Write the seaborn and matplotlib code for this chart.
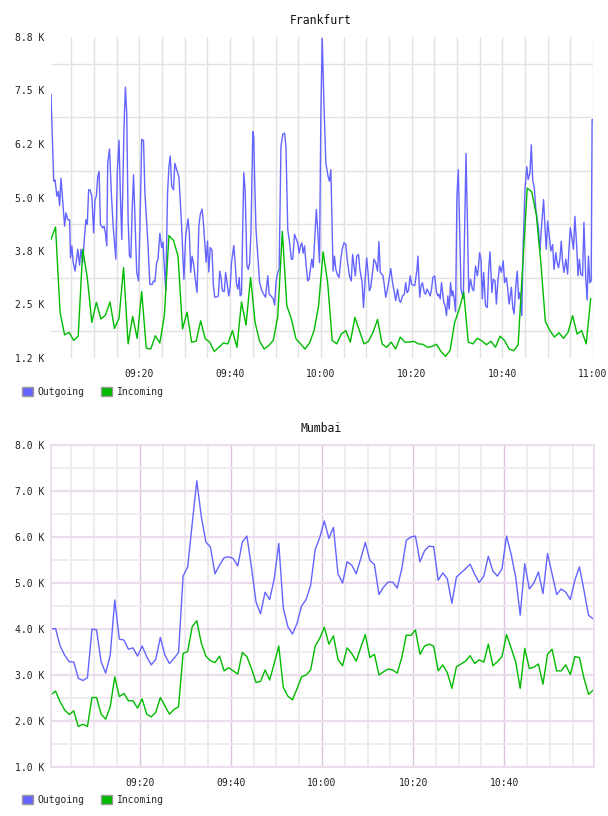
import matplotlib
matplotlib.use("Agg")
import matplotlib.pyplot as plt
import matplotlib.dates as mdates
from matplotlib.patches import Patch
from matplotlib.ticker import MultipleLocator, FuncFormatter
import pandas as pd
import seaborn as sns

sns.set_style("white")
plt.rcParams["font.family"] = ["DejaVu Sans Mono", "DejaVu Sans"]

START = pd.Timestamp("2024-01-01 09:00:30")
SERIES = ["Outgoing", "Incoming"]
PALETTE = {"Outgoing": "#6464ff", "Incoming": "#00bb00"}

# Frankfurt outgoing: minutes after START, value in K
fra_out_min = [
    0.0, 0.6, 0.9, 1.3, 1.6, 1.9, 2.2, 2.5, 3.0, 3.3,
    3.7, 4.1, 4.3, 4.6, 4.9, 5.3, 5.9, 6.3, 6.6, 7.0,
    7.4, 7.7, 8.0, 8.3, 8.6, 9.0, 9.4, 9.7, 10.0, 10.3,
    10.6, 10.9, 11.4, 11.7, 12.0, 12.3, 12.5, 12.9, 13.3, 13.7,
    14.3, 14.6, 15.0, 15.3, 15.6, 16.1, 16.4, 16.7, 17.0, 17.3,
    17.6, 17.9, 18.2, 18.6, 18.9, 19.3, 19.6, 20.0, 20.4, 20.7,
    21.0, 21.4, 21.8, 22.3, 22.6, 22.9, 23.3, 23.6, 24.0, 24.4,
    24.7, 25.1, 25.3, 25.7, 26.0, 26.3, 26.6, 27.0, 27.3, 27.7,
    28.2, 28.8, 29.3, 29.7,
    30.2, 30.5, 30.8, 31.1, 31.4, 31.9, 32.2, 32.6, 32.9, 33.3,
    33.6, 33.9, 34.2, 34.5, 34.8, 35.1, 35.5, 35.8, 36.1, 36.6,
    36.9, 37.2, 37.5, 37.8, 38.2, 38.5, 38.8, 39.2, 39.5, 39.8,
    40.3, 40.6, 40.9, 41.2, 41.5, 41.7, 42.0, 42.5, 42.8, 43.2,
    43.5, 43.8, 44.1, 44.5, 44.7, 44.9, 45.2, 45.6, 46.0, 46.5,
    46.9, 47.3, 47.8, 48.1, 48.5, 49.0, 49.3, 49.6, 50.0, 50.3,
    50.7, 51.1, 51.5, 51.8, 52.2, 52.6, 53.0, 53.3, 53.7, 54.1,
    54.4, 54.7, 55.0, 55.3, 55.6, 55.9, 56.2, 56.6, 56.9, 57.2,
    57.5, 57.8, 58.1, 58.5, 58.8, 59.2, 59.5,
    59.8, 60.2, 60.6, 61.1, 61.4, 61.7, 62.0, 62.2, 62.5, 62.8,
    63.1, 63.5, 63.9, 64.2, 64.6, 65.0, 65.3, 65.8, 66.2, 66.5,
    66.8, 67.1, 67.4, 67.8, 68.1, 68.6, 68.9, 69.3, 69.6, 69.9,
    70.2, 70.5, 70.9, 71.2, 71.6, 72.0, 72.3, 72.6, 72.9, 73.2,
    73.5, 73.8, 74.2, 74.6, 74.9, 75.3, 75.7, 76.0, 76.4, 76.8,
    77.1, 77.5, 77.9, 78.2, 78.5, 78.8, 79.2, 79.5, 79.9, 80.2,
    80.7, 80.9, 81.3, 81.6, 81.9, 82.3, 82.6, 82.9, 83.3, 83.6,
    83.9, 84.2, 84.6, 85.0, 85.3, 85.5, 85.8, 86.1, 86.6, 86.9,
    87.2, 87.5, 87.8, 88.1, 88.4, 88.6, 88.9, 89.2, 89.5, 89.8,
    90.1, 90.4, 90.9, 91.2, 91.5, 91.8, 92.1, 92.5, 92.9, 93.2,
    93.6, 94.0, 94.2, 94.5, 94.8, 95.1, 95.4, 95.8, 96.2, 96.5,
    96.8, 97.2, 97.5, 97.9, 98.2, 98.5, 98.9, 99.3, 99.7, 100.0,
    100.4, 100.7, 101.0, 101.5, 101.8, 102.1, 102.5, 102.8, 103.1, 103.4,
    103.8, 104.1, 104.5, 104.9, 105.2, 105.6, 105.9, 106.2, 106.6, 106.9,
    107.2, 107.5, 107.8, 108.1, 108.6, 108.9, 109.2, 109.5, 109.8, 110.2,
    110.6, 110.9, 111.3, 111.6, 111.9, 112.2, 112.5, 112.8, 113.1, 113.5,
    113.9, 114.2, 114.5, 114.9, 115.2, 115.5, 115.9, 116.2, 116.5, 116.8,
    117.2, 117.5, 117.9, 118.2, 118.5, 118.8, 119.1, 119.3, 119.5,
]
fra_out_k = [
    7.41, 5.38, 5.41, 5.03, 5.14, 4.81, 5.45, 5.03, 4.33, 4.64,
    4.48, 4.48, 3.59, 3.87, 3.48, 3.28, 3.79, 3.42, 3.79, 3.48,
    4.10, 4.48, 4.37, 5.18, 5.18, 5.03, 4.17, 4.95, 5.03, 5.49,
    5.61, 4.37, 4.29, 4.33, 4.17, 3.87, 5.80, 6.13, 5.11, 4.33,
    3.56, 5.57, 6.34, 5.03, 4.02, 6.65, 7.58, 6.96, 4.48, 3.63,
    3.59, 4.72, 5.53, 4.25, 3.25, 3.05, 4.25, 6.36, 6.33, 5.11,
    4.56, 3.87, 2.97, 2.97, 3.05, 3.03, 3.48, 3.56, 4.16, 3.83,
    3.96, 3.17, 2.84, 5.11, 5.72, 5.97, 5.26, 5.18, 5.80, 5.65,
    5.49, 4.33, 3.09, 4.10,
    4.50, 4.17, 3.25, 3.63, 3.48, 3.01, 2.78, 4.33, 4.60, 4.73,
    4.41, 3.94, 3.49, 3.98, 3.26, 3.83, 3.77, 2.94, 2.67, 2.68,
    2.70, 3.28, 3.13, 2.82, 2.80, 3.25, 3.01, 2.70, 2.90, 3.48,
    3.88, 3.48, 2.97, 2.86, 3.13, 2.70, 2.74, 5.58, 5.18, 3.40,
    3.32, 3.48, 4.25, 6.54, 6.42, 5.42, 4.25, 3.63, 3.01, 2.82,
    2.74, 2.67, 3.17, 2.74, 2.70, 2.63, 2.49, 3.01, 3.25, 3.32,
    6.19, 6.48, 6.50, 6.19, 4.25, 3.94, 3.56, 3.56, 4.14, 4.02,
    3.94, 3.70, 3.87, 3.94, 3.70, 3.87, 3.48, 3.05, 3.09, 3.32,
    3.56, 3.36, 3.94, 4.72, 4.25, 3.48, 6.96,
    8.72, 7.12, 5.80, 5.49, 5.38, 5.65, 4.25, 3.28, 3.63, 3.32,
    3.21, 3.13, 3.56, 3.79, 3.94, 3.91, 3.56, 3.17, 3.05, 3.67,
    3.40, 3.17, 3.63, 3.67, 3.32, 3.01, 2.43, 3.17, 3.59, 3.25,
    2.82, 2.90, 3.25, 3.56, 3.48, 3.28, 3.97, 3.25, 3.21, 3.17,
    2.94, 2.67, 2.86, 3.13, 3.34, 3.01, 2.78, 2.59, 2.86, 2.59,
    2.55, 2.70, 2.74, 3.01, 2.78, 2.82, 3.17, 2.97, 2.95, 2.94,
    3.32, 3.63, 2.67, 2.94, 3.01, 2.78, 2.74, 2.86, 2.78, 2.70,
    2.86, 3.13, 3.17, 2.78, 2.70, 2.74, 2.63, 3.01, 2.55, 2.47,
    2.24, 2.70, 2.39, 3.01, 2.70, 2.82, 2.63, 2.33, 5.03, 5.65,
    4.25, 2.86, 2.64, 4.25, 6.03, 4.48, 2.78, 3.09, 2.86, 2.82,
    3.40, 3.17, 3.32, 3.71, 3.56, 2.63, 3.25, 2.47, 2.43, 3.32,
    3.73, 2.78, 3.09, 3.05, 2.51, 3.01, 3.40, 3.25, 3.52, 3.01,
    3.13, 2.86, 2.51, 2.90, 2.43, 2.28, 2.97, 3.28, 2.63, 2.78,
    2.24, 3.87, 5.18, 5.72, 5.42, 5.57, 6.23, 5.42, 5.18, 4.72,
    4.48, 4.25, 3.75, 4.25, 4.95, 4.33, 3.79, 4.45, 4.17, 3.75,
    3.90, 3.32, 3.71, 3.48, 3.36, 3.56, 3.98, 3.48, 3.25, 3.56,
    3.21, 3.79, 4.29, 4.02, 3.79, 4.56, 3.87, 3.17, 3.56, 3.21,
    3.17, 4.42, 3.13, 2.61, 3.63, 3.01, 3.05, 6.82, 6.82,
]

# Frankfurt incoming: one sample per minute, value in K
fra_in_k = [
    4.02, 4.31, 2.32, 1.79, 1.85, 1.66, 1.76, 3.79, 3.13, 2.08,
    2.55, 2.16, 2.25, 2.56, 1.94, 2.18, 3.36, 1.58, 2.22, 1.71,
    2.80, 1.48, 1.46, 1.77, 1.60, 2.25, 4.11, 4.00, 3.63, 1.93,
    2.32, 1.62, 1.64, 2.12, 1.70, 1.62, 1.40, 1.50, 1.60, 1.58,
    1.89, 1.50, 2.56, 2.02, 3.13, 2.08, 1.64, 1.46, 1.54, 1.66,
    2.22, 4.21, 2.47, 2.16, 1.70, 1.58, 1.46, 1.60, 1.89, 2.47,
    3.73, 3.01, 1.66, 1.58, 1.81, 1.89, 1.62, 2.20, 1.89, 1.58,
    1.64, 1.85, 2.15, 1.58, 1.50, 1.62, 1.46, 1.74, 1.62, 1.62,
    1.64, 1.58, 1.57, 1.50, 1.52, 1.57, 1.40, 1.29, 1.43, 2.08,
    2.39, 2.78, 1.62, 1.58, 1.71, 1.65, 1.56, 1.64, 1.50, 1.76,
    1.66, 1.46, 1.42, 1.56, 3.40, 5.22, 5.13, 4.60, 3.48, 2.10,
    1.89, 1.74, 1.84, 1.71, 1.85, 2.24, 1.81, 1.89, 1.58, 2.64,
]

# Mumbai: one sample per minute, value in K
mum_out_k = [
    4.00, 4.01, 3.63, 3.43, 3.29, 3.28, 2.93, 2.88, 2.94, 4.00,
    3.98, 3.29, 3.04, 3.43, 4.63, 3.78, 3.76, 3.56, 3.59, 3.41,
    3.63, 3.40, 3.22, 3.34, 3.82, 3.43, 3.25, 3.36, 3.49, 5.15,
    5.35, 6.29, 7.22, 6.44, 5.89, 5.78, 5.20, 5.39, 5.55, 5.57,
    5.53, 5.37, 5.89, 6.02, 5.35, 4.59, 4.33, 4.80, 4.64, 5.09,
    5.86, 4.45, 4.05, 3.89, 4.12, 4.50, 4.64, 4.95, 5.73, 5.99,
    6.35, 5.97, 6.21, 5.20, 5.00, 5.46, 5.39, 5.20, 5.53, 5.88,
    5.49, 5.40, 4.75, 4.91, 5.02, 5.02, 4.89, 5.31, 5.93, 6.00,
    6.02, 5.46, 5.70, 5.80, 5.79, 5.06, 5.22, 5.09, 4.56, 5.13,
    5.22, 5.31, 5.41, 5.19, 5.01, 5.15, 5.58, 5.26, 5.15, 5.31,
    6.02, 5.63, 5.13, 4.30, 5.42, 4.87, 5.00, 5.24, 4.77, 5.64,
    5.20, 4.75, 4.87, 4.80, 4.64, 5.06, 5.35, 4.84, 4.30, 4.22,
]
mum_in_k = [
    2.57, 2.65, 2.42, 2.24, 2.14, 2.22, 1.88, 1.93, 1.88, 2.51,
    2.51, 2.15, 2.04, 2.31, 2.96, 2.53, 2.60, 2.44, 2.44, 2.28,
    2.48, 2.15, 2.09, 2.19, 2.51, 2.33, 2.15, 2.25, 2.31, 3.47,
    3.51, 4.05, 4.18, 3.69, 3.41, 3.31, 3.27, 3.41, 3.09, 3.16,
    3.09, 3.02, 3.49, 3.40, 3.14, 2.84, 2.86, 3.11, 2.89, 3.25,
    3.63, 2.73, 2.54, 2.46, 2.70, 2.96, 3.00, 3.11, 3.63, 3.80,
    4.04, 3.67, 3.85, 3.34, 3.20, 3.59, 3.47, 3.30, 3.60, 3.88,
    3.38, 3.45, 3.00, 3.07, 3.13, 3.11, 3.04, 3.38, 3.87, 3.86,
    3.98, 3.45, 3.63, 3.67, 3.63, 3.09, 3.22, 3.05, 2.71, 3.18,
    3.24, 3.30, 3.42, 3.25, 3.33, 3.28, 3.67, 3.20, 3.29, 3.40,
    3.88, 3.59, 3.29, 2.71, 3.58, 3.14, 3.17, 3.24, 2.80, 3.45,
    3.56, 3.09, 3.09, 3.22, 3.01, 3.40, 3.38, 2.93, 2.58, 2.67,
]


def frame(minutes, values, name):
    return pd.DataFrame({
        "time": START + pd.to_timedelta(minutes, unit="min"),
        "value": values,
        "series": name,
    })


fra = pd.concat([
    frame(fra_out_min, fra_out_k, "Outgoing"),
    frame(list(range(len(fra_in_k))), fra_in_k, "Incoming"),
])
mum = pd.concat([
    frame(list(range(len(mum_out_k))), mum_out_k, "Outgoing"),
    frame(list(range(len(mum_in_k))), mum_in_k, "Incoming"),
])

W, H = 608, 816
fig = plt.figure(figsize=(W / 100, H / 100), dpi=100)
ax1 = fig.add_axes([51 / W, 1 - 358 / H, 542 / W, 321 / H])
ax2 = fig.add_axes([51 / W, 1 - 767 / H, 543 / W, 322 / H])


def style_common(ax, df, xmax_min):
    sns.lineplot(data=df, x="time", y="value", hue="series", hue_order=SERIES,
                 palette=PALETTE, estimator=None, sort=False, linewidth=1.0,
                 legend=False, ax=ax)
    ax.set_xlim(START, START + pd.Timedelta(minutes=xmax_min))
    ax.xaxis.set_major_locator(mdates.MinuteLocator(byminute=[0, 20, 40]))
    ax.xaxis.set_minor_locator(mdates.MinuteLocator(byminute=range(0, 60, 5)))
    ax.xaxis.set_major_formatter(mdates.DateFormatter("%H:%M"))
    ax.yaxis.set_major_formatter(FuncFormatter(lambda v, p: f"{v:.1f} K"))
    ax.tick_params(which="both", length=0, labelsize=7, colors="#222222")
    ax.tick_params(axis="x", pad=8)
    ax.tick_params(axis="y", pad=5)
    ax.set_xlabel("")
    ax.set_ylabel("")
    ax.set_axisbelow(True)


# Frankfurt
style_common(ax1, fra, 119.5)
ax1.set_ylim(1.25, 8.75)
ax1.yaxis.set_major_locator(MultipleLocator(1.25))
ax1.yaxis.set_minor_locator(MultipleLocator(1.25, offset=0.625))
ax1.grid(False, which="major")
ax1.grid(True, which="minor", color="#e2e2e2", linewidth=1.0)
ax1.grid(True, which="major", axis="x", color="#e2e2e2", linewidth=1.0)
for s in ax1.spines.values():
    s.set_visible(False)

# Mumbai
style_common(ax2, mum, 119.2)
ax2.set_ylim(1.0, 8.0)
ax2.yaxis.set_major_locator(MultipleLocator(1.0))
ax2.yaxis.set_minor_locator(MultipleLocator(0.5))
ax2.grid(True, which="minor", color="#f0ebf0", linewidth=1.4)
ax2.grid(True, which="major", axis="y", color="#ecdcec", linewidth=1.6)
ax2.grid(True, which="major", axis="x", color="#dcc4dc", linewidth=1.0)
for s in ax2.spines.values():
    s.set_color("#eddeed")
    s.set_linewidth(1.4)

fig.text(321 / W, 1 - 20 / H, "Frankfurt", ha="center", va="center", fontsize=8.3, color="#111111")
fig.text(321 / W, 1 - 429 / H, "Mumbai", ha="center", va="center", fontsize=8.3, color="#111111")

for ly in (392, 800):
    handles = [Patch(facecolor=PALETTE[s], edgecolor="#999999", linewidth=1.0, label=s) for s in SERIES]
    fig.legend(handles=handles, loc="center left", bbox_to_anchor=(22 / W, 1 - ly / H),
               ncol=2, frameon=False, fontsize=7, handlelength=1.1, handleheight=1.1,
               handletextpad=0.5, columnspacing=1.7, borderaxespad=0, borderpad=0)

fig.savefig("out.png", dpi=100)
